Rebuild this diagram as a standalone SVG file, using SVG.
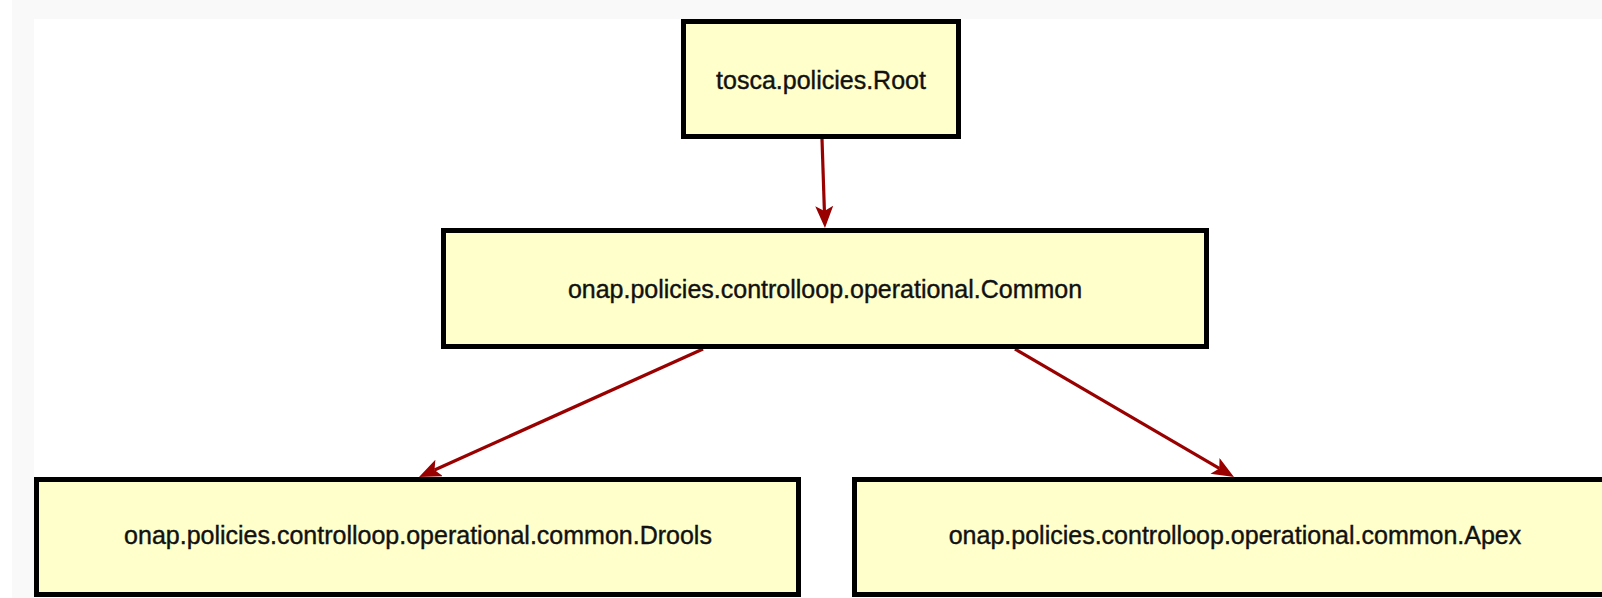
<svg xmlns="http://www.w3.org/2000/svg" width="1602" height="598" viewBox="0 0 1602 598">
  <defs>
    <style>
      .node rect { fill: #ffffcc; stroke: #000; stroke-width: 5; }
      .node text { font-family: "Liberation Sans", Arial, sans-serif; font-size: 25px; fill: #111; stroke: #111; stroke-width: 0.4; text-anchor: middle; }
      .edge { fill: none; stroke: #990000; stroke-width: 3.2; }
    </style>
    <marker id="arrow" markerUnits="userSpaceOnUse" markerWidth="24" markerHeight="20" refX="5" refY="9" orient="auto" viewBox="0 0 24 20">
      <path d="M0,0 L22,9 L0,18 L5,9 Z" fill="#990000"/>
    </marker>
  </defs>
  <rect x="0" y="0" width="1602" height="598" fill="#ffffff"/>
  <rect x="12" y="0" width="1590" height="598" fill="#f9f9f9"/>
  <rect x="34" y="19" width="1568" height="579" fill="#ffffff"/>

  <g id="connectors">
    <line class="edge" x1="822" y1="139" x2="824.4" y2="211" marker-end="url(#arrow)"/>
    <line class="edge" x1="703" y1="349" x2="434.5" y2="470" marker-end="url(#arrow)"/>
    <line class="edge" x1="1015" y1="349" x2="1219.3" y2="468.4" marker-end="url(#arrow)"/>
  </g>

  <g id="node-root" class="node">
    <rect x="683.5" y="21.5" width="275" height="115"/>
    <text x="821" y="89">tosca.policies.Root</text>
  </g>
  <g id="node-common" class="node">
    <rect x="443.5" y="230.5" width="763" height="116"/>
    <text x="825" y="298">onap.policies.controlloop.operational.Common</text>
  </g>
  <g id="node-drools" class="node">
    <rect x="36.5" y="479.5" width="762" height="115"/>
    <text x="418" y="544">onap.policies.controlloop.operational.common.Drools</text>
  </g>
  <g id="node-apex" class="node">
    <rect x="854.5" y="479.5" width="762" height="115"/>
    <text x="1235" y="544">onap.policies.controlloop.operational.common.Apex</text>
  </g>
</svg>
